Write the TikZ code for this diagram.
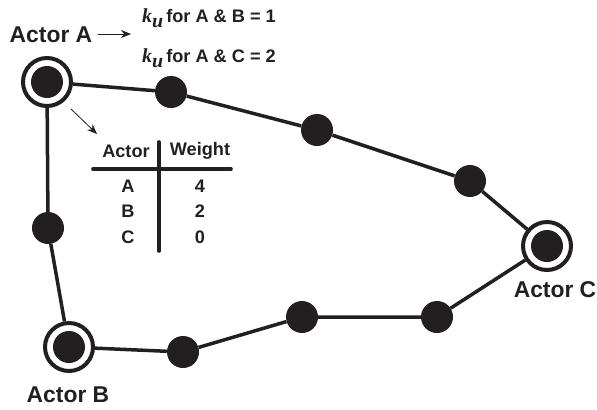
\documentclass[tikz,border=0pt]{standalone}
\usepackage{fontspec}
\setmainfont{Liberation Sans}
\newfontfamily\serifit{Liberation Serif}
\usepackage{xcolor}
\usetikzlibrary{arrows.meta, positioning}
\definecolor{tinta}{HTML}{231F20}
\newcommand{\ku}{{\serifit\itshape\fontsize{17}{17}\selectfont k\raisebox{-4.5pt}{u}}\,}
\tikzset{
  every picture/.style={font=\bfseries, >=Stealth},
  punto/.style={circle, fill=tinta, inner sep=0pt, minimum size=0.96cm},
  actor/.style={circle, draw=tinta, fill=white, line width=0.12cm, inner sep=0pt, minimum size=1.44cm},
  rotulo/.style={text=tinta, font=\fontsize{19.5}{21}\selectfont\bfseries},
  celda/.style={text=tinta, font=\fontsize{15.5}{17}\selectfont\bfseries},
  nota/.style={text=tinta, anchor=base west, inner sep=0pt, font=\fontsize{15.5}{17}\selectfont\bfseries},
  enlace/.style={draw=tinta, line width=0.105cm},
  regla/.style={draw=tinta, line width=0.11cm, line cap=round},
  flecha/.style={-{Stealth[length=3mm, width=2.4mm]}, draw=tinta, line width=0.7pt},
}

\begin{document}
\begin{tikzpicture}[x=0.03cm, y=-0.03cm]
  \useasboundingbox (0,0) rectangle (597,409);
  % actors and intermediate points
  \node[actor] (A) at (47,82) {};   \node[punto] at (A) {};
  \node[actor] (B) at (69,347) {};  \node[punto] at (B) {};
  \node[actor] (C) at (547,246) {}; \node[punto] at (C) {};
  \node[punto] (p1) at (171,92) {};
  \node[punto] (p2) at (317,130) {};
  \node[punto] (p3) at (470,181) {};
  \node[punto] (p4) at (437,317) {};
  \node[punto] (p5) at (302,317) {};
  \node[punto] (p6) at (183,352) {};
  \node[punto] (p7) at (48,228) {};
  \draw[enlace] (A) -- (p1) -- (p2) -- (p3) -- (C) -- (p4) -- (p5) -- (p6) -- (B) -- (p7) -- (A);

  % labels
  \node[rotulo] (la) at (51,35) {Actor A};
  \node[rotulo] (lb) at (68,395) {Actor B};
  \node[rotulo] (lc) at (555,290) {Actor C};
  \node[nota] (k1) at (142,22) {\ku for A \& B = 1};
  \node[nota] (k2) at (142,62) {\ku for A \& C = 2};
  \coordinate (f1) at (98,34);
  \coordinate (f2) at (131,34);
  \draw[flecha] (f1) -- (f2);

  % weight table
  \coordinate (t0) at (71,109);
  \coordinate (t1) at (97,134);
  \draw[flecha] (t0) -- (t1);
  \node[celda] (h1) at (126,151) {Actor};
  \node[celda] (h2) at (200,151) {Weight};
  \node[celda] (a1) at (128,186) {A};
  \node[celda] (a2) at (128,211) {B};
  \node[celda] (a3) at (128,237) {C};
  \node[celda] (w1) at (200,186) {4};
  \node[celda] (w2) at (200,211) {2};
  \node[celda] (w3) at (200,237) {0};
  \coordinate (r1) at (93,169);
  \coordinate (r2) at (231,169);
  \coordinate (r3) at (159,142);
  \coordinate (r4) at (159,251);
  \draw[regla] (r1) -- (r2);
  \draw[regla] (r3) -- (r4);
\end{tikzpicture}
\end{document}
